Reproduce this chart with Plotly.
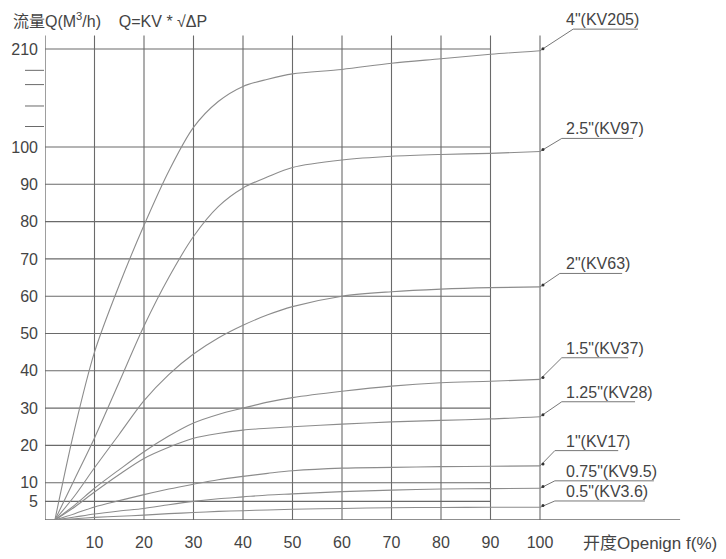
import plotly.graph_objects as go

# opening f(%) sample points shared by all curves
OPENING = [2, 6, 10, 15, 20, 25, 30, 35, 40, 45, 50, 60, 70, 80, 90, 100]

# flow Q (m3/h) for each valve size
Q_4IN = [0, 24.5, 45, 63, 79, 93.5, 122, 151, 168, 176, 182, 187, 194, 199, 204, 208]
Q_25IN = [0, 11, 22, 37, 52, 65, 76, 84, 89, 92, 94.5, 96.5, 97.5, 98, 98.3, 98.8]
Q_2IN = [0, 6.5, 14, 23, 32, 39, 44.5, 48.8, 52.2, 55, 57.2, 60, 61.2, 61.9, 62.3, 62.5]
Q_15IN = [0, 4, 8.5, 13.5, 18.3, 22.5, 26, 28.3, 30, 31.6, 32.8, 34.5, 35.9, 36.8, 37.2, 37.7]
Q_125IN = [0, 3.5, 7.5, 12.2, 16.5, 19.5, 21.9, 23.2, 24.1, 24.6, 25, 25.7, 26.3, 26.7, 27.1, 27.7]
Q_1IN = [0, 1.7, 3.5, 5.2, 6.8, 8.3, 9.6, 10.8, 11.7, 12.5, 13.2, 13.9, 14.1, 14.3, 14.4, 14.5]
Q_075IN = [0, 0.8, 1.6, 2.4, 3.1, 4.1, 5.0, 5.7, 6.2, 6.7, 7.0, 7.6, 8.0, 8.3, 8.4, 8.5]
Q_05IN = [0, 0.35, 0.7, 1.0, 1.3, 1.7, 2.0, 2.3, 2.5, 2.7, 2.9, 3.1, 3.3, 3.35, 3.4, 3.4]

SERIES_NAMES = ['4"(KV205)', '2.5"(KV97)', '2"(KV63)', '1.5"(KV37)',
                '1.25"(KV28)', '1"(KV17)', '0.75"(KV9.5)', '0.5"(KV3.6)']
SERIES_VALUES = [Q_4IN, Q_25IN, Q_2IN, Q_15IN, Q_125IN, Q_1IN, Q_075IN, Q_05IN]

X_TICKS = [10, 20, 30, 40, 50, 60, 70, 80, 90, 100]
Y_TICKS = [5, 10, 20, 30, 40, 50, 60, 70, 80, 90, 100, 210]
Y_BREAK_MARKS = [123, 146, 170, 186]   # unlabelled marks on the compressed part

# ---- layout constants (pixels / styles) ----
PAGE_OFF = 8           # browser body margin
W, H = 726 - PAGE_OFF, 559 - PAGE_OFF
ML, MR, MT, MB = 45 - PAGE_OFF, 0, 4, 39
PX_X = 4.95        # px per % opening
PX_Y = 3.73        # px per m3/h below 100
BREAK_SCALE = 0.239  # compression above 100
GRID_TOP = 225
AXIS_END = 128.3
GRID_END = 90
LABEL_X = 104.8

# label placement: (underline y, underline x start, underline x end) in plot units
LABEL_POS = [(131.6, 106.7, 119.8), (102.3, 104.4, 118.8), (66.1, 104.0, 116.6),
             (43.5, 104.4, 117.8), (31.7, 104.4, 119.2), (18.6, 103.0, 115.8),
             (10.5, 103.0, 123.0), (5.1, 103.0, 121.2)]

GRID_COLOR = "#6a6a6a"
CURVE_COLOR = "#8c8c8c"
TEXT_COLOR = "#444444"
FONT = "Liberation Sans, Noto Sans CJK SC, sans-serif"


def tq(q):
    # broken y scale: linear to 100, compressed above
    return q if q <= 100 else 100 + (q - 100) * BREAK_SCALE


def paper_x(px):
    # px is a page pixel
    return (px - PAGE_OFF - ML) / (W - ML - MR)


def paper_y(py):
    return (H - MB - (py - PAGE_OFF)) / (H - MT - MB)


fig = go.Figure()

def add_line(xs, ys, color=GRID_COLOR, width=1.1):
    fig.add_scatter(x=xs, y=ys, mode="lines", line=dict(color=color, width=width),
                    hoverinfo="skip", showlegend=False, cliponaxis=False)

# grid
for xv in X_TICKS:
    add_line([xv, xv], [0, tq(GRID_TOP)])
for yv in Y_TICKS:
    add_line([0, GRID_END], [tq(yv), tq(yv)])
# axes
add_line([0, 0], [0, tq(GRID_TOP)], width=1.3)
add_line([0, AXIS_END], [0, 0], width=1.3)

# curves
for name, vals in zip(SERIES_NAMES, SERIES_VALUES):
    fig.add_scatter(x=OPENING, y=[tq(v) for v in vals], mode="lines", name=name,
                    line=dict(color=CURVE_COLOR, width=1.1, shape="spline", smoothing=0.9),
                    showlegend=False)

# leaders + labels
for name, vals, (uy, ux1, ux2) in zip(SERIES_NAMES, SERIES_VALUES, LABEL_POS):
    end_y = tq(vals[-1])
    add_line([OPENING[-1], ux1, ux2], [end_y, uy, uy], color="#777777", width=1)
    fig.add_scatter(x=[OPENING[-1] + 0.6], y=[end_y + 0.5], mode="markers",
                    marker=dict(color="#333333", size=3), hoverinfo="skip",
                    showlegend=False, cliponaxis=False)
    fig.add_annotation(x=LABEL_X, y=uy, text=name, showarrow=False, xanchor="left",
                       yanchor="bottom", yshift=-1,
                       font=dict(size=16, color=TEXT_COLOR, family=FONT))

shapes = []
for yv in Y_BREAK_MARKS:
    shapes.append(dict(type="line", xref="paper", yref="y", x0=paper_x(25), x1=paper_x(44),
                       y0=tq(yv), y1=tq(yv), line=dict(color=GRID_COLOR, width=1)))

fig.add_annotation(xref="paper", yref="paper", x=paper_x(11), y=paper_y(PAGE_OFF),
                   xanchor="left", yanchor="top", showarrow=False,
                   text="流量Q(M<sup>3</sup>/h)    Q=KV * √ΔP",
                   font=dict(size=16, color=TEXT_COLOR, family=FONT))
fig.add_annotation(xref="paper", yref="paper", x=paper_x(581), y=paper_y(543),
                   xanchor="left", yanchor="middle", showarrow=False,
                   text="开度Openign f(%)",
                   font=dict(size=17, color=TEXT_COLOR, family=FONT))

fig.update_layout(
    width=W, height=H,
    margin=dict(l=ML, r=MR, t=MT, b=MB, autoexpand=False),
    plot_bgcolor="white", paper_bgcolor="white",
    shapes=shapes,
    font=dict(family=FONT, color=TEXT_COLOR, size=16),
)
fig.update_xaxes(range=[0, (W - ML - MR) / PX_X], showgrid=False, zeroline=False,
                 showline=False, tickvals=X_TICKS, ticktext=[str(v) for v in X_TICKS],
                 ticks="", ticklabelstandoff=11, tickfont=dict(size=16), automargin=False)
fig.update_yaxes(range=[0, (H - MT - MB) / PX_Y], showgrid=False, zeroline=False,
                 showline=False, tickvals=[tq(v) for v in Y_TICKS],
                 ticktext=[str(v) for v in Y_TICKS], ticks="", ticklabelstandoff=6,
                 tickfont=dict(size=16), automargin=False)

fig.write_html("out.html")
